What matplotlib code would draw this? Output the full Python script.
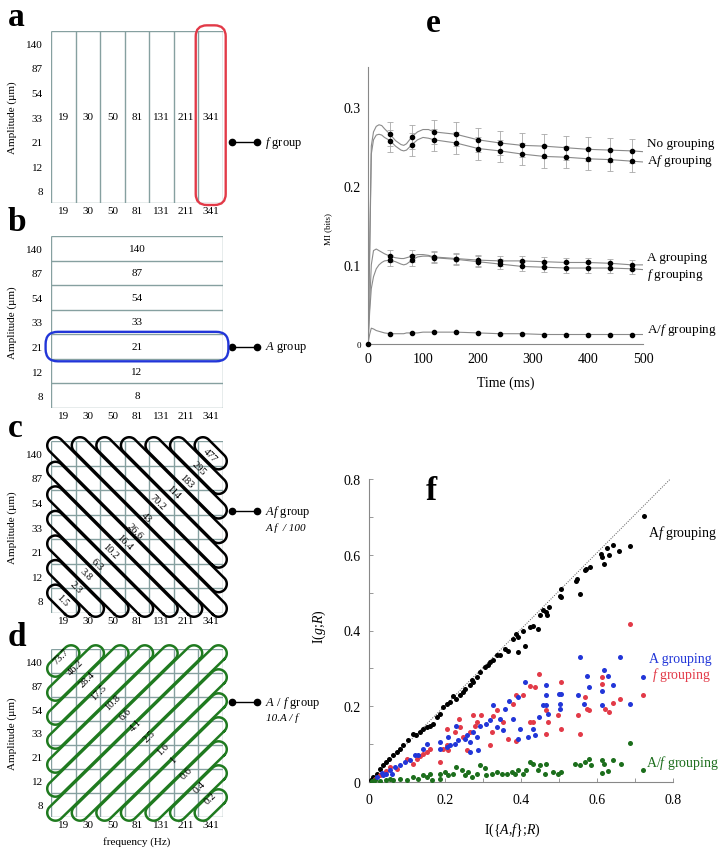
import numpy as np
import matplotlib
matplotlib.use("Agg")
import matplotlib.pyplot as plt
from matplotlib.patches import FancyBboxPatch

plt.rcParams['font.family'] = ['Liberation Serif', 'DejaVu Serif']
plt.rcParams['mathtext.fontset'] = 'custom'
plt.rcParams['mathtext.rm'] = 'Liberation Serif'
plt.rcParams['mathtext.it'] = 'Liberation Serif:italic'
plt.rcParams['mathtext.bf'] = 'Liberation Serif:bold'

# ---------------- data ----------------
freq_labels = ['19', '30', '50', '81', '131', '211', '341']
amp_labels = ['8', '12', '21', '33', '54', '87', '140']
af_values = ['1.5', '2.3', '3.8', '6.3', '10.2', '16.4', '26.6', '43', '70.2',
             '114', '183', '295', '477']
a_over_f_values = ['73.7', '46.2', '28.4', '17.5', '10.8', '6.6', '4.1', '2.5',
                   '1.6', '1', '0.6', '0.4', '0.2']

# panel e: MI time course
t_points = [40, 80, 120, 160, 200, 240, 280, 320, 360, 400, 440, 480]
mi_none = [0.265, 0.262, 0.268, 0.265, 0.258, 0.254, 0.251, 0.250, 0.248, 0.246, 0.245, 0.244]
mi_Af = [0.257, 0.252, 0.258, 0.254, 0.247, 0.244, 0.240, 0.237, 0.236, 0.234, 0.233, 0.231]
mi_A = [0.111, 0.111, 0.110, 0.108, 0.106, 0.105, 0.105, 0.104, 0.103, 0.103, 0.102, 0.100]
mi_f = [0.106, 0.106, 0.109, 0.107, 0.104, 0.101, 0.098, 0.097, 0.096, 0.096, 0.096, 0.095]
mi_AoF = [0.013, 0.014, 0.015, 0.015, 0.014, 0.013, 0.013, 0.012, 0.012, 0.012, 0.012, 0.012]
err_none = [0.015] * 12
err_Af = [0.014] * 12
err_A = [0.008, 0.008, 0.007, 0.007, 0.007, 0.006, 0.006, 0.006, 0.006, 0.006, 0.006, 0.006]
err_f = [0.007, 0.007, 0.007, 0.007, 0.007, 0.006, 0.006, 0.006, 0.006, 0.006, 0.006, 0.006]

t_curve = [0, 3, 6, 10, 15, 20, 25, 30, 40, 50, 60, 65, 70, 80, 90, 100, 110, 120,
           160, 200, 240, 280, 320, 360, 400, 440, 480, 500]
curve_none = [0, 0.12, 0.25, 0.268, 0.275, 0.277, 0.276, 0.272, 0.265, 0.257, 0.252, 0.251,
              0.253, 0.262, 0.268, 0.271, 0.271, 0.268, 0.265, 0.258, 0.254, 0.251, 0.250,
              0.248, 0.246, 0.245, 0.244, 0.243]
curve_Af = [0, 0.11, 0.24, 0.258, 0.264, 0.265, 0.264, 0.261, 0.257, 0.250, 0.245, 0.244,
            0.245, 0.252, 0.258, 0.261, 0.260, 0.258, 0.254, 0.247, 0.244, 0.240, 0.237,
            0.236, 0.234, 0.233, 0.231, 0.230]
curve_A = [0, 0.05, 0.10, 0.118, 0.120, 0.118, 0.116, 0.114, 0.111, 0.109, 0.108, 0.108,
           0.109, 0.111, 0.113, 0.113, 0.112, 0.110, 0.108, 0.106, 0.105, 0.105, 0.104,
           0.103, 0.103, 0.102, 0.100, 0.100]
curve_f = [0, 0.04, 0.07, 0.085, 0.095, 0.100, 0.103, 0.105, 0.106, 0.104, 0.101, 0.100,
           0.101, 0.106, 0.110, 0.111, 0.111, 0.109, 0.107, 0.104, 0.101, 0.098, 0.097,
           0.096, 0.096, 0.096, 0.095, 0.094]
curve_AoF = [0, 0.012, 0.020, 0.019, 0.017, 0.016, 0.015, 0.014, 0.013, 0.013, 0.013, 0.013,
             0.014, 0.014, 0.014, 0.015, 0.015, 0.015, 0.015, 0.014, 0.013, 0.013, 0.012,
             0.012, 0.012, 0.012, 0.012, 0.012]

# panel f: scatter I({A,f};R) vs I(g;R)
af_x = [0.723, 0.686, 0.658, 0.642, 0.626, 0.632, 0.618, 0.612, 0.610, 0.581, 0.572, 0.568,
        0.556, 0.544, 0.548, 0.506, 0.506, 0.502, 0.474, 0.469, 0.465, 0.458, 0.449, 0.445,
        0.432, 0.423, 0.410, 0.404, 0.393, 0.388, 0.393, 0.379, 0.366, 0.358, 0.344, 0.336,
        0.327, 0.314, 0.318, 0.305, 0.292, 0.283, 0.274, 0.270, 0.266, 0.252, 0.248, 0.239,
        0.230, 0.222, 0.213, 0.204, 0.195, 0.187, 0.178, 0.169, 0.160, 0.152, 0.143, 0.134,
        0.124, 0.117, 0.103, 0.090, 0.081, 0.073, 0.064, 0.053, 0.045, 0.038, 0.029, 0.020,
        0.011, 0.004]
af_y = [0.701, 0.624, 0.611, 0.626, 0.617, 0.600, 0.576, 0.593, 0.602, 0.567, 0.563, 0.560,
        0.497, 0.532, 0.536, 0.510, 0.488, 0.492, 0.462, 0.440, 0.449, 0.453, 0.440, 0.404,
        0.413, 0.409, 0.359, 0.400, 0.382, 0.391, 0.343, 0.378, 0.347, 0.352, 0.336, 0.334,
        0.321, 0.308, 0.316, 0.303, 0.290, 0.277, 0.264, 0.268, 0.255, 0.246, 0.237, 0.229,
        0.220, 0.227, 0.211, 0.207, 0.198, 0.180, 0.171, 0.154, 0.149, 0.145, 0.141, 0.132,
        0.123, 0.127, 0.110, 0.097, 0.088, 0.079, 0.070, 0.062, 0.053, 0.044, 0.035, 0.022,
        0.013, 0.004]

a_x = [0.555, 0.660, 0.721, 0.618, 0.629, 0.574, 0.580, 0.642, 0.612, 0.686, 0.612, 0.550,
       0.567, 0.506, 0.500, 0.502, 0.502, 0.465, 0.467, 0.467, 0.472, 0.457, 0.448, 0.410,
       0.393, 0.369, 0.358, 0.327, 0.344, 0.318, 0.309, 0.336, 0.353, 0.379, 0.397, 0.393,
       0.432, 0.436, 0.419, 0.292, 0.274, 0.283, 0.257, 0.252, 0.265, 0.235, 0.226, 0.213,
       0.204, 0.187, 0.187, 0.230, 0.209, 0.265, 0.288, 0.152, 0.143, 0.130, 0.121, 0.108,
       0.095, 0.081, 0.068, 0.055, 0.046, 0.038, 0.020, 0.060, 0.033]
a_y = [0.331, 0.329, 0.277, 0.295, 0.281, 0.281, 0.251, 0.255, 0.239, 0.207, 0.202, 0.229,
       0.207, 0.233, 0.233, 0.207, 0.193, 0.257, 0.229, 0.204, 0.180, 0.202, 0.171, 0.264,
       0.224, 0.215, 0.193, 0.202, 0.167, 0.165, 0.154, 0.145, 0.136, 0.167, 0.141, 0.114,
       0.141, 0.123, 0.119, 0.149, 0.132, 0.119, 0.123, 0.114, 0.106, 0.110, 0.101, 0.097,
       0.092, 0.088, 0.106, 0.149, 0.119, 0.079, 0.084, 0.101, 0.088, 0.070, 0.070, 0.057,
       0.053, 0.044, 0.040, 0.031, 0.022, 0.018, 0.013, 0.022, 0.025]

f_x = [0.686, 0.721, 0.612, 0.612, 0.660, 0.642, 0.620, 0.632, 0.580, 0.574, 0.568, 0.550,
       0.555, 0.506, 0.498, 0.506, 0.448, 0.436, 0.423, 0.404, 0.388, 0.379, 0.423, 0.432,
       0.467, 0.472, 0.467, 0.388, 0.366, 0.353, 0.336, 0.325, 0.323, 0.318, 0.296, 0.274,
       0.279, 0.266, 0.248, 0.238, 0.239, 0.226, 0.204, 0.204, 0.195, 0.187, 0.209, 0.160,
       0.152, 0.143, 0.134, 0.125, 0.117, 0.099, 0.073, 0.055, 0.046, 0.029, 0.016, 0.257,
       0.283]
f_y = [0.416, 0.229, 0.276, 0.259, 0.220, 0.208, 0.193, 0.186, 0.189, 0.193, 0.224, 0.176,
       0.127, 0.264, 0.176, 0.141, 0.284, 0.251, 0.253, 0.230, 0.229, 0.207, 0.158, 0.158,
       0.127, 0.158, 0.189, 0.107, 0.114, 0.158, 0.189, 0.174, 0.132, 0.097, 0.176, 0.178,
       0.149, 0.132, 0.119, 0.167, 0.145, 0.132, 0.141, 0.097, 0.088, 0.053, 0.084, 0.088,
       0.079, 0.075, 0.069, 0.062, 0.048, 0.062, 0.035, 0.040, 0.028, 0.018, 0.009, 0.084,
       0.158]

aof_x = [0.686, 0.721, 0.664, 0.642, 0.629, 0.612, 0.612, 0.618, 0.585, 0.579, 0.568, 0.555,
         0.541, 0.506, 0.498, 0.485, 0.467, 0.462, 0.449, 0.445, 0.432, 0.423, 0.414, 0.405,
         0.393, 0.385, 0.376, 0.362, 0.349, 0.336, 0.323, 0.309, 0.305, 0.292, 0.283, 0.270,
         0.261, 0.252, 0.244, 0.230, 0.222, 0.209, 0.200, 0.187, 0.187, 0.160, 0.152, 0.143,
         0.130, 0.117, 0.099, 0.081, 0.064, 0.046, 0.029, 0.016, 0.007, 0.165, 0.055]
aof_y = [0.103, 0.031, 0.048, 0.057, 0.028, 0.057, 0.025, 0.048, 0.044, 0.062, 0.053, 0.046,
         0.048, 0.026, 0.022, 0.026, 0.048, 0.022, 0.046, 0.031, 0.048, 0.053, 0.031, 0.022,
         0.031, 0.022, 0.026, 0.022, 0.022, 0.026, 0.022, 0.018, 0.037, 0.044, 0.022, 0.013,
         0.026, 0.018, 0.031, 0.040, 0.022, 0.018, 0.026, 0.022, 0.009, 0.022, 0.013, 0.018,
         0.009, 0.013, 0.004, 0.009, 0.004, 0.004, 0.002, 0.004, 0.002, 0.004, 0.009]

# ---------------- style ----------------
GRID_C = '#86a0a0'
RED = '#e23a48'
BLUE = '#2236d8'
GREEN = '#1c6e1c'
GREEN_BOX = '#1f7a1f'

W, H = 721, 853
fig = plt.figure(figsize=(W / 100, H / 100), dpi=100)


def rect_px(x0, y0, x1, y1):
    return [x0 / W, 1 - y1 / H, (x1 - x0) / W, (y1 - y0) / H]


def grid_axes(y0, y1, full_v, full_h, xlabel=None):
    ax = fig.add_axes(rect_px(51, y0, 223, y1))
    ax.set_xlim(-0.5, 6.5)
    ax.set_ylim(-0.5, 6.5)
    for s in ax.spines.values():
        s.set_visible(False)
    ax.set_xticks(range(7))
    ax.set_xticklabels(freq_labels)
    ax.set_yticks(range(7))
    ax.set_yticklabels(amp_labels)
    ax.tick_params(axis='both', length=0, labelsize=8)
    ax.tick_params(axis='x', pad=2)
    ax.tick_params(axis='y', pad=6)
    edges = np.arange(-0.5, 7.0, 1.0)
    xs = edges if full_v else [-0.5, 6.5]
    ys = edges if full_h else [-0.5, 6.5]
    ax.vlines(xs, -0.5, 6.5, color=GRID_C, lw=1.0, zorder=1)
    ax.hlines(ys, -0.5, 6.5, color=GRID_C, lw=1.0, zorder=1)
    ax.set_ylabel('Amplitude (µm)', fontsize=8)
    ax.yaxis.set_label_coords(-0.2, 0.5)
    if xlabel:
        ax.set_xlabel(xlabel, fontsize=8)
        ax.xaxis.set_label_coords(0.5, -0.115)
    return ax


def connector(ax, y, line1, line2=None, dy2=0.65):
    ax.plot([6.85, 7.9], [y, y], color='black', lw=1.0, marker='o', ms=4.5,
            clip_on=False)
    ax.text(8.2, y, line1, fontsize=9, va='center', ha='left', clip_on=False)
    if line2:
        ax.text(8.25, y - dy2, line2, fontsize=8, va='center', ha='left',
                style='italic', clip_on=False)


def capsule(ax, p0, p1, r, color, lw):
    p0 = np.asarray(p0, float)
    p1 = np.asarray(p1, float)
    u = (p1 - p0) / np.linalg.norm(p1 - p0)
    phi = np.arctan2(u[1], u[0])
    th1 = np.linspace(phi - np.pi / 2, phi + np.pi / 2, 40)
    th0 = np.linspace(phi + np.pi / 2, phi + 3 * np.pi / 2, 40)
    xs = np.concatenate([p1[0] + r * np.cos(th1), p0[0] + r * np.cos(th0)])
    ys = np.concatenate([p1[1] + r * np.sin(th1), p0[1] + r * np.sin(th0)])
    xs = np.append(xs, xs[0])
    ys = np.append(ys, ys[0])
    ax.plot(xs, ys, color=color, lw=lw, clip_on=False, zorder=3,
            solid_joinstyle='round')


# ---------------- panel a ----------------
axa = grid_axes(32, 204, True, False)
for i, lab in enumerate(freq_labels):
    axa.text(i, 3, lab, ha='center', va='center', fontsize=8)
axa.add_patch(FancyBboxPatch((5.62, -0.35), 0.76, 6.85, boxstyle='round,pad=0.23,rounding_size=0.45',
                             fill=False, ec=RED, lw=1.7, clip_on=False, zorder=4))
connector(axa, 2, r'$f$ group')

# ---------------- panel b ----------------
axb = grid_axes(237, 409, False, True)
for j, lab in enumerate(amp_labels):
    axb.text(3, j, lab, ha='center', va='center', fontsize=8)
axb.add_patch(FancyBboxPatch((-0.5, 1.62), 7.0, 0.76, boxstyle='round,pad=0.22,rounding_size=0.5',
                             fill=False, ec=BLUE, lw=1.7, clip_on=False, zorder=4))
connector(axb, 2, r'$A$ group')

# ---------------- panel c ----------------
axc = grid_axes(442, 614, True, True)
a_ext = 0.45
rad = 0.335
ud = np.array([1.0, -1.0]) / np.sqrt(2)
for k in range(13):
    i0, i1 = max(0, k - 6), min(6, k)
    s = np.array([i0, k - i0], float)
    e = np.array([i1, k - i1], float)
    capsule(axc, s - a_ext * ud, e + a_ext * ud, rad, 'black', 1.8)
c_pos = [(-0.05, 0.05), (0.5, 0.55), (0.9, 1.1), (1.38, 1.5), (1.92, 2.03), (2.47, 2.4),
         (2.92, 2.86), (3.36, 3.4), (3.84, 4.02), (4.46, 4.43), (5.0, 4.9), (5.5, 5.42),
         (5.97, 5.94)]
for lab, (x, y) in zip(af_values, c_pos):
    axc.text(x, y, lab, rotation=-45, ha='center', va='center', fontsize=7.5,
             rotation_mode='anchor', zorder=5)
connector(axc, 3.65, r'$Af$ group', 'A f  / 100')

# ---------------- panel d ----------------
axd = grid_axes(650, 818, True, True, xlabel='frequency (Hz)')
uu = np.array([1.0, 1.0]) / np.sqrt(2)
for m in range(-6, 7):
    i0, i1 = max(0, m), min(6, 6 + m)
    s = np.array([i0, i0 - m], float)
    e = np.array([i1, i1 - m], float)
    capsule(axd, s - a_ext * uu, e + a_ext * uu, rad, GREEN_BOX, 1.8)
d_pos = [(-0.1, 6.2), (0.49, 5.75), (0.97, 5.25), (1.45, 4.72), (2.02, 4.3), (2.52, 3.82),
         (2.95, 3.34), (3.5, 2.87), (4.05, 2.36), (4.49, 1.91), (5.0, 1.36), (5.53, 0.78),
         (6.0, 0.3)]
for lab, (x, y) in zip(a_over_f_values, d_pos):
    axd.text(x, y, lab, rotation=45, ha='center', va='center', fontsize=7.5,
             rotation_mode='anchor', zorder=5)
connector(axd, 4.3, r'$A$ / $f$ group', '10.A / f')

# ---------------- panel e ----------------
axe = fig.add_axes(rect_px(368, 68, 643, 345))
axe.set_xlim(0, 500)
axe.set_ylim(0, 0.35)
for s in ['top', 'right']:
    axe.spines[s].set_visible(False)
for s in ['left', 'bottom']:
    axe.spines[s].set_color('#888888')
    axe.spines[s].set_linewidth(0.8)
line_c = '#8a8a8a'
for cy in [curve_none, curve_Af, curve_A, curve_f, curve_AoF]:
    axe.plot(t_curve, cy, color=line_c, lw=0.8, zorder=2)
for yv, ev in [(mi_none, err_none), (mi_Af, err_Af), (mi_A, err_A), (mi_f, err_f)]:
    axe.errorbar(t_points, yv, yerr=ev, fmt='none', ecolor='#a8a8a8', elinewidth=0.6,
                 capsize=2.5, capthick=0.6, zorder=2)
for yv in [mi_none, mi_Af, mi_A, mi_f, mi_AoF]:
    axe.plot(t_points, yv, 'o', color='black', ms=3.0, zorder=3)
axe.plot([0], [0], 'o', color='black', ms=3.0, clip_on=False, zorder=3)
axe.set_xticks([0, 100, 200, 300, 400, 500])
axe.set_yticks([0, 0.1, 0.2, 0.3])
axe.set_yticklabels(['0', '0.1', '0.2', '0.3'])
axe.tick_params(length=0, labelsize=10)
axe.tick_params(axis='y', pad=5)
axe.tick_params(axis='x', pad=6)
axe.get_yticklabels()[0].set_fontsize(6.5)
axe.set_xlabel('Time (ms)', fontsize=10)
axe.xaxis.set_label_coords(0.5, -0.112)
axe.set_ylabel('MI (bits)', fontsize=6.5)
axe.yaxis.set_label_coords(-0.13, 0.42)
for txt, yv in [('No grouping', 0.2535), (r'A$f$ grouping', 0.232), ('A grouping', 0.110),
                (r'$f$ grouping', 0.088), (r'A/$f$ grouping', 0.019)]:
    axe.text(507, yv, txt, fontsize=9.5, ha='left', va='center', clip_on=False)

# ---------------- panel f ----------------
axf = fig.add_axes(rect_px(369, 480, 673, 783))
axf.set_xlim(0, 0.8)
axf.set_ylim(0, 0.8)
for s in ['top', 'right']:
    axf.spines[s].set_visible(False)
for s in ['left', 'bottom']:
    axf.spines[s].set_color('#888888')
    axf.spines[s].set_linewidth(0.8)
axf.plot([0, 0.793], [0, 0.8], ls=(0, (1, 1.5)), color='#555555', lw=0.7, zorder=1)
axf.scatter(af_x, af_y, s=13, color='black', lw=0, zorder=3)
axf.scatter(f_x, f_y, s=13, color=RED, lw=0, zorder=3)
axf.scatter(a_x, a_y, s=13, color=BLUE, lw=0, zorder=4)
axf.scatter(aof_x, aof_y, s=13, color=GREEN, lw=0, zorder=3)
axf.set_xticks(np.arange(0, 0.81, 0.1))
axf.set_yticks(np.arange(0, 0.81, 0.1))
axf.set_xticklabels(['0', '', '0.2', '', '0.4', '', '0.6', '', '0.8'])
axf.set_yticklabels(['0', '', '0.2', '', '0.4', '', '0.6', '', '0.8'])
axf.tick_params(direction='in', length=3, width=0.6, color='#888888', labelsize=10)
axf.tick_params(axis='x', pad=8)
axf.tick_params(axis='y', pad=6)
axf.set_xlabel(r'I({$A$,$f$};$R$)', fontsize=10)
axf.xaxis.set_label_coords(0.47, -0.128)
axf.set_ylabel(r'I($g$;$R$)', fontsize=10)
axf.yaxis.set_label_coords(-0.135, 0.515)
axf.text(0.734, 0.66, r'A$f$ grouping', fontsize=10, color='black', va='center', clip_on=False)
axf.text(0.738, 0.327, 'A grouping', fontsize=10, color=BLUE, va='center', clip_on=False)
axf.text(0.745, 0.285, r'$f$ grouping', fontsize=10, color=RED, va='center', clip_on=False)
axf.text(0.728, 0.053, r'A/$f$ grouping', fontsize=10, color=GREEN, va='center', clip_on=False)

# ---------------- panel letters ----------------
for lab, x, y in [('a', 8, 26), ('b', 8, 231), ('c', 8, 437), ('d', 8, 646),
                  ('e', 426, 32), ('f', 426, 500)]:
    fig.text(x / W, 1 - y / H, lab, fontsize=24, fontweight='bold', ha='left',
             va='baseline')

fig.savefig('out.png', dpi=100, facecolor='white')
